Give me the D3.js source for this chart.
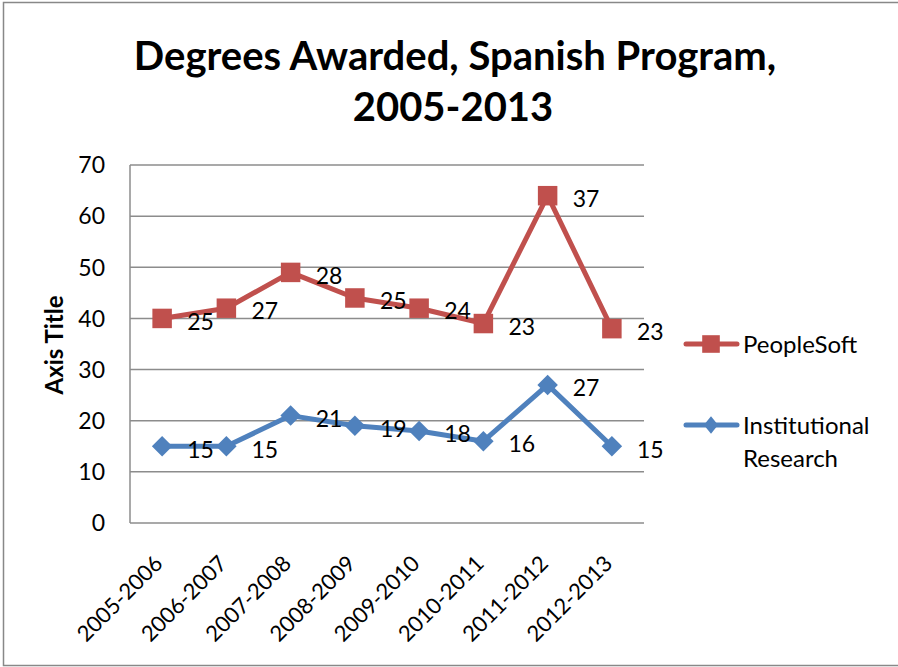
<!DOCTYPE html>
<html lang="en">
  <head>
    <meta charset="UTF-8" />
    <title>Degrees Awarded</title>
    <style>
      body {
        margin: 0;
        background: #fff;
      }
      text {
        font-family: Lato, "Open Sans", sans-serif;
        fill: #000;
      }
    </style>
  </head>
  <body>
    <svg id="chart"></svg>
    <script src="https://cdnjs.cloudflare.com/ajax/libs/d3/7.4.4/d3.min.js"></script>
    <script>
      const years = [
        "2005-2006",
        "2006-2007",
        "2007-2008",
        "2008-2009",
        "2009-2010",
        "2010-2011",
        "2011-2012",
        "2012-2013",
      ];
      // stacked line chart: PeopleSoft sits on top of Institutional Research
      const institutional = [15, 15, 21, 19, 18, 16, 27, 15];
      const peopleSoft = [25, 27, 28, 25, 24, 23, 37, 23];
      const yTicks = [0, 10, 20, 30, 40, 50, 60, 70];

      const W = 898,
        H = 667;
      const plotLeft = 130,
        plotRight = 644,
        plotTop = 165,
        plotBottom = 523;
      const red = "#c0504d",
        blue = "#4f81bd",
        grid = "#8c8c8c";

      const svg = d3.select("#chart").attr("width", W).attr("height", H);

      svg
        .append("rect")
        .attr("x", 3.5)
        .attr("y", 2.5)
        .attr("width", W)
        .attr("height", 663)
        .attr("fill", "none")
        .attr("stroke", "#888")
        .attr("stroke-width", 1.5);

      const x = d3.scaleBand().domain(years).range([plotLeft, plotRight]);
      const cx = (d) => x(d) + x.bandwidth() / 2;
      const y = d3.scaleLinear().domain([0, 70]).range([plotBottom, plotTop]);

      // gridlines
      svg
        .append("g")
        .selectAll("line")
        .data(yTicks)
        .join("line")
        .attr("x1", plotLeft)
        .attr("x2", plotRight)
        .attr("y1", (d) => y(d))
        .attr("y2", (d) => y(d))
        .attr("stroke", grid)
        .attr("stroke-width", 1.5);

      svg
        .append("line")
        .attr("x1", plotLeft)
        .attr("x2", plotLeft)
        .attr("y1", y(70))
        .attr("y2", y(0))
        .attr("stroke", grid)
        .attr("stroke-width", 1.5);

      svg
        .append("g")
        .selectAll("text")
        .data(yTicks)
        .join("text")
        .attr("x", 105)
        .attr("y", (d) => y(d))
        .attr("dy", "0.36em")
        .attr("text-anchor", "end")
        .style("font-size", "23px")
        .text((d) => d);

      svg
        .append("g")
        .selectAll("text")
        .data(years)
        .join("text")
        .attr("transform", (d) => `translate(${cx(d) + 2},${plotBottom + 42}) rotate(-45)`)
        .attr("text-anchor", "end")
        .style("font-size", "22px")
        .text((d) => d);

      svg
        .append("text")
        .attr("transform", `translate(63,345) rotate(-90)`)
        .attr("text-anchor", "middle")
        .style("font-size", "24px")
        .style("font-weight", "bold")
        .text("Axis Title");

      const title = svg
        .append("g")
        .style("font-size", "40px")
        .style("font-weight", "bold")
        .attr("text-anchor", "middle");
      title.append("text").attr("x", 455).attr("y", 70).text("Degrees Awarded, Spanish Program,");
      title.append("text").attr("x", 453).attr("y", 121).text("2005-2013");

      const instTotals = institutional;
      const psTotals = peopleSoft.map((v, i) => v + institutional[i]);

      const line = d3
        .line()
        .x((d) => cx(d.year))
        .y((d) => y(d.total));

      const series = [
        { color: red, shape: d3.symbolSquare, size: 380, rot: 0, raw: peopleSoft, totals: psTotals },
        { color: blue, shape: d3.symbolSquare, size: 210, rot: 45, raw: institutional, totals: instTotals },
      ];

      series.forEach((s) => {
        const pts = years.map((yr, i) => ({ year: yr, total: s.totals[i], raw: s.raw[i] }));
        const g = svg.append("g");
        g.append("path")
          .datum(pts)
          .attr("d", line)
          .attr("fill", "none")
          .attr("stroke", s.color)
          .attr("stroke-width", 5)
          .attr("stroke-linejoin", "round");
        g.selectAll("path.m")
          .data(pts)
          .join("path")
          .attr("class", "m")
          .attr("transform", (d) => `translate(${cx(d.year)},${y(d.total)}) rotate(${s.rot})`)
          .attr("d", d3.symbol().type(s.shape).size(s.size))
          .attr("fill", s.color);
        g.selectAll("text")
          .data(pts)
          .join("text")
          .attr("x", (d) => cx(d.year) + 25)
          .attr("y", (d) => y(d.total) + 3)
          .attr("dy", "0.36em")
          .style("font-size", "23px")
          .text((d) => d.raw);
      });

      // legend
      const legend = [
        { color: red, shape: d3.symbolSquare, size: 310, sx: 1, y: 344, lines: ["PeopleSoft"] },
        { color: blue, shape: d3.symbolDiamond2, size: 200, sx: 0.8, y: 425, lines: ["Institutional", "Research"] },
      ];
      legend.forEach((l) => {
        const g = svg.append("g");
        g.append("line")
          .attr("x1", 686)
          .attr("x2", 737)
          .attr("y1", l.y)
          .attr("y2", l.y)
          .attr("stroke", l.color)
          .attr("stroke-width", 5)
          .attr("stroke-linecap", "round");
        g.append("path")
          .attr("transform", `translate(711,${l.y}) scale(${l.sx},1)`)
          .attr("d", d3.symbol().type(l.shape).size(l.size))
          .attr("fill", l.color);
        l.lines.forEach((t, i) => {
          g.append("text")
            .attr("x", 743)
            .attr("y", l.y + i * 33)
            .attr("dy", "0.36em")
            .style("font-size", "24px")
            .text(t);
        });
      });
    </script>
  </body>
</html>
